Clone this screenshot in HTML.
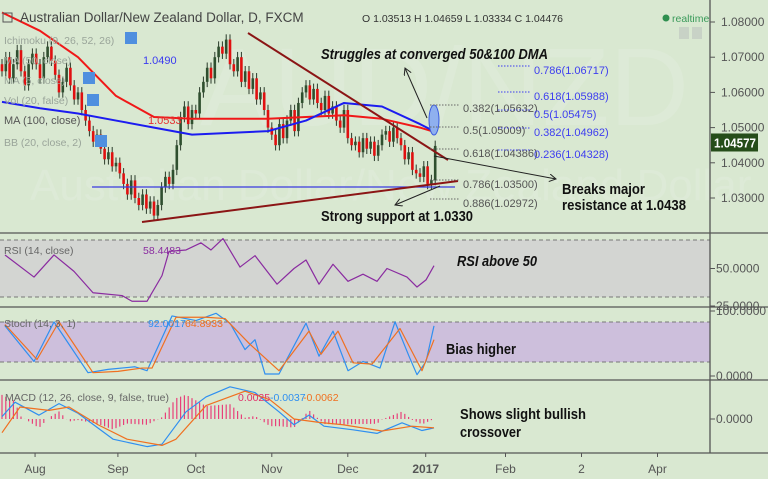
<!DOCTYPE html>
<html><head><meta charset="utf-8">
<style>
html,body{margin:0;padding:0;background:#d9e8d1;}
svg{display:block;font-family:"Liberation Sans",sans-serif;}
.ax{font-size:12px;fill:#555;}
.ann{font-family:"Liberation Sans Narrow","Liberation Sans",sans-serif;font-weight:bold;font-size:15px;fill:#111;}
.leg{font-size:10.5px;fill:#9aa59a;}
.fibg{font-size:11px;fill:#555;}
.fibb{font-size:11px;fill:#3d3df0;}
</style></head>
<body>
<svg id="chart" width="768" height="479" viewBox="0 0 768 479">
<defs>
<marker id="ah" markerWidth="8" markerHeight="8" refX="7" refY="4" orient="auto" markerUnits="userSpaceOnUse">
<path d="M0,0 L7,4 L0,8" fill="none" stroke="#222" stroke-width="1"/>
</marker>
</defs>
<rect x="0" y="0" width="768" height="479" fill="#d9e8d1"/>
<g fill="#e0ecdb" font-size="110" opacity="0.6">
<text x="200" y="125">AUD/NZD</text>
<text x="30" y="200" font-size="44">Australian Dollar/New Zealand Dollar</text>
</g>
<rect x="0" y="240" width="710" height="57" fill="#d3d5d2"/>
<rect x="0" y="322" width="710" height="40" fill="#cdbfdc"/>
<g id="grid"></g>
<g id="main"></g>
<g id="ind"></g>
<g id="axes"></g>
<g id="annot">
<text class="ann" x="321" y="59" font-style="italic" textLength="227" lengthAdjust="spacingAndGlyphs">Struggles at converged 50&amp;100 DMA</text>
<text class="ann" x="562" y="194" textLength="83" lengthAdjust="spacingAndGlyphs">Breaks major</text>
<text class="ann" x="562" y="210" textLength="124" lengthAdjust="spacingAndGlyphs">resistance at 1.0438</text>
<text class="ann" x="321" y="221" textLength="152" lengthAdjust="spacingAndGlyphs">Strong support at 1.0330</text>
<text class="ann" x="457" y="266" font-style="italic" textLength="80" lengthAdjust="spacingAndGlyphs">RSI above 50</text>
<text class="ann" x="446" y="354" textLength="70" lengthAdjust="spacingAndGlyphs">Bias higher</text>
<text class="ann" x="460" y="419" textLength="126" lengthAdjust="spacingAndGlyphs">Shows slight bullish</text>
<text class="ann" x="460" y="437" textLength="61" lengthAdjust="spacingAndGlyphs">crossover</text>
</g>
<g>
<rect x="3" y="13" width="9" height="9" fill="none" stroke="#555"/>
<text x="20" y="22" font-size="13.5" fill="#444">Australian Dollar/New Zealand Dollar, D, FXCM</text>
<text x="362" y="22" font-size="10.5" fill="#333">O 1.03513 H 1.04659 L 1.03334 C 1.04476</text>
<circle cx="666" cy="18" r="3.5" fill="#2f8f4f"/>
<text x="672" y="22" font-size="10.5" fill="#3a9a5a">realtime</text>
<rect x="679" y="27" width="10" height="12" fill="#c8d2c6"/>
<rect x="692" y="27" width="10" height="12" fill="#c8d2c6"/>
<text class="leg" x="4" y="44">Ichimoku (9, 26, 52, 26)</text>
<text class="leg" x="4" y="64">MA (50, close)</text>
<text x="143" y="64" font-size="11" fill="#3a3af0">1.0490</text>
<text class="leg" x="4" y="84">MA (5, close)</text>
<text class="leg" x="4" y="104">Vol (20, false)</text>
<text x="4" y="124" font-size="11" fill="#555">MA (100, close)</text>
<text x="148" y="124" font-size="11" fill="#e53030">1.0533</text>
<text class="leg" x="4" y="146">BB (20, close, 2)</text>
<rect x="125" y="32" width="12" height="12" fill="#4f8fdf"/>
<rect x="83" y="72" width="12" height="12" fill="#4f8fdf"/>
<rect x="87" y="94" width="12" height="12" fill="#4f8fdf"/>
<rect x="95" y="135" width="12" height="12" fill="#4f8fdf"/>
<text x="4" y="254" font-size="10.5" fill="#666">RSI (14, close)</text>
<text x="143" y="254" font-size="10.5" fill="#8a2ba0">58.4483</text>
<text x="4" y="327" font-size="10.5" fill="#666">Stoch (14, 3, 1)</text>
<text x="148" y="327" font-size="10.5" fill="#2f8ff0">92.0017</text>
<text x="185" y="327" font-size="10.5" fill="#f07020">64.8933</text>
<text x="5" y="401" font-size="10.5" fill="#666">MACD (12, 26, close, 9, false, true)</text>
<text x="238" y="401" font-size="10.5" fill="#e0306a">0.0025</text>
<text x="270" y="401" font-size="10.5" fill="#2f8ff0">-0.0037</text>
<text x="303" y="401" font-size="10.5" fill="#f07020">-0.0062</text>
</g>
</svg>
<script>
const closes=[1.066,1.070,1.064,1.068,1.072,1.066,1.062,1.068,1.071,
1.068,1.064,1.070,1.073,1.069,1.065,1.060,1.063,1.067,1.062,1.058,1.060,
1.055,1.052,1.049,1.046,1.048,1.044,1.041,1.043,1.039,1.040,
1.037,1.034,1.031,1.035,1.030,1.028,1.031,1.027,1.029,1.025,
1.028,1.033,1.036,1.034,1.038,
1.045,1.053,1.056,1.051,1.055,
1.054,1.060,1.063,1.067,1.064,1.070,1.073,1.071,1.075,1.068,
1.066,1.070,1.063,1.066,1.061,1.064,1.058,1.060,1.055,1.050,
1.048,1.045,1.051,1.047,1.052,1.055,1.049,1.057,1.060,1.062,
1.058,1.061,1.057,1.055,1.059,1.054,1.056,1.052,1.050,1.055,
1.047,1.045,1.046,1.043,1.047,1.044,1.046,1.042,1.045,1.048,
1.049,1.046,1.050,1.047,1.045,1.041,1.043,1.038,1.037,1.036,
1.039,1.034,1.0351,1.0448];
const maIdx=[0,10,20,30,40,50,60,70,80,90,100,110,114];
const ma50=[1.0827,1.0775,1.0700,1.0590,1.0530,1.0525,1.0525,1.0525,1.0530,1.0535,1.0525,1.0500,1.0487];
const ma100=[1.0573,1.0555,1.0540,1.0520,1.0500,1.0480,1.0485,1.0490,1.0520,1.0570,1.0560,1.0510,1.0488];
const priceTicks=[1.08,1.07,1.06,1.05,1.04,1.03];
const rsiX=[5,34,54,74,93,122,132,147,162,169,186,201,211,223,240,255,277,294,306,319,333,348,363,377,387,407,417,426,434];
const rsiV=[59.5,44,59.5,48,33,31,27,27,45,62,63,68,63,71,51,59,39,50,56,39,53,41,46,41,50,44,37,42,52];
const kX=[5,34,54,88,108,135,147,172,196,216,230,245,255,265,279,306,319,333,348,363,380,395,409,417,426,434];
const kV=[76,22,82,5,10,14,8,91,84,95,80,40,55,3,3,80,30,68,8,22,12,82,30,2,22,76];
const dX=[5,37,59,93,118,142,152,176,206,225,250,279,309,321,338,353,372,400,422,434];
const dV=[78,25,82,5,7,12,12,89,89,87,48,8,68,33,68,20,18,72,8,55];
const macdX=[2,15,39,59,78,113,147,162,186,206,230,255,279,294,309,324,353,377,402,422,434];
const macdV=[1.0,7,1.6,6.4,2.4,-8.4,-11.5,-10.5,3,9.2,13.4,11,3,-2.4,1.6,-3,-4.5,-6,-1.6,-4.8,-3.7];
const sigX=[2,20,49,69,98,127,162,176,206,245,270,294,319,343,382,412,434];
const sigV=[-5.7,5,3.6,5,-2.4,-8.4,-11,-8.4,5.6,11.6,8,0,-1.4,-2.4,-5,-3,-3.7];
const timeLabels=["Aug","Sep","Oct","Nov","Dec","2017","Feb","2","Apr"];
const timeBars=[8.7,30.5,51,71,91,111.5,132.5,152.5,172.5];

const NS="http://www.w3.org/2000/svg";
function mk(p,tag,attrs){const e=document.createElementNS(NS,tag);for(const k in attrs)e.setAttribute(k,attrs[k]);p.appendChild(e);return e;}
const xBar=i=>2+i*3.8;
const yP=p=>22+(1.08-p)*3520;
const yRsi=v=>268.5-(v-50)*1.425;
const yStoch=v=>376-v*0.66;
const yMacd=v=>419-v*2.4;
const main=document.getElementById('main'),ind=document.getElementById('ind'),axes=document.getElementById('axes'),grid=document.getElementById('grid');
function interp(xs,vs,x){if(x<=xs[0])return vs[0];for(let i=1;i<xs.length;i++){if(x<=xs[i]){const t=(x-xs[i-1])/(xs[i]-xs[i-1]);return vs[i-1]+t*(vs[i]-vs[i-1]);}}return vs[vs.length-1];}

[[240,'rsi-level-70'],[297,'rsi-level-30'],[322,'stoch-level-80'],[362,'stoch-level-20']].forEach(([y,n])=>{
 const l=mk(grid,'line',{x1:0,x2:710,y1:y,y2:y,stroke:'#777','stroke-dasharray':'4,3'});
 
 
});

closes.forEach((c,i)=>{
 const o=i?closes[i-1]:c+0.002;
 const hi=Math.max(o,c)+0.0015, lo=Math.min(o,c)-0.0015;
 const x=xBar(i), up=c>=o;
 const g=mk(main,'g',{});
 
 
 mk(g,'line',{x1:x,x2:x,y1:yP(hi),y2:yP(lo),stroke:'#2a3a2a','stroke-width':1});
 const yt=yP(Math.max(o,c)),yb=yP(Math.min(o,c));
 mk(g,'rect',{x:x-1.3,y:yt,width:2.6,height:Math.max(1,yb-yt),fill:up?'#2f4f2f':'#e01010'});
});
function line(par,pts,color,w,name){
 const p=mk(par,'polyline',{points:pts.map(q=>q.join(',')).join(' '),fill:'none',stroke:color,'stroke-width':w,'stroke-linejoin':'round'});
 
 
}
line(main,maIdx.map((b,i)=>[xBar(b),yP(ma50[i])]),'#f01818',2,'ma-50-line');
line(main,maIdx.map((b,i)=>[xBar(b),yP(ma100[i])]),'#1c1cf0',2,'ma-100-line');

const dr=[
 ['line',{x1:92,y1:187,x2:455,y2:187,stroke:'#3a3ae0','stroke-width':1.3},'support-horizontal'],
 ['line',{x1:248,y1:33,x2:448,y2:160,stroke:'#8b1515','stroke-width':2},'descending-trendline'],
 ['line',{x1:142,y1:222,x2:458,y2:181,stroke:'#8b1515','stroke-width':2},'ascending-trendline'],
 ['ellipse',{cx:434,cy:120,rx:5,ry:15,fill:'#8fb0ef',stroke:'#3a5ae0','stroke-width':1},'highlight-ellipse'],
 ['line',{x1:427,y1:118,x2:405,y2:68,stroke:'#222','stroke-width':1,'marker-end':'url(#ah)'},'arrow-dma'],
 ['line',{x1:434,y1:156,x2:556,y2:179,stroke:'#222','stroke-width':1,'marker-end':'url(#ah)'},'arrow-breaks'],
 ['line',{x1:440,y1:186,x2:395,y2:205,stroke:'#222','stroke-width':1,'marker-end':'url(#ah)'},'arrow-support']
];
dr.forEach(([t,a,n])=>{const e=mk(main,t,a);});

const fibG=[["0.382(1.05632)",105,112],["0.5(1.05009)",127,134],["0.618(1.04386)",149,157],["0.786(1.03500)",180,188],["0.886(1.02972)",199,207]];
const fibB=[["0.786(1.06717)",66,74],["0.618(1.05988)",92,100],["0.5(1.05475)",110,118],["0.382(1.04962)",128,136],["0.236(1.04328)",150,158]];
fibG.forEach(([t,ly,ty])=>{
 const l=mk(main,'line',{x1:430,x2:459,y1:ly,y2:ly,stroke:'#666','stroke-dasharray':'1.5,1.5'});
 
 
 const e=mk(main,'text',{x:463,y:ty,class:'fibg'});e.textContent=t;
 
 
});
fibB.forEach(([t,ly,ty])=>{
 const l=mk(main,'line',{x1:498,x2:530,y1:ly,y2:ly,stroke:'#3d3df0','stroke-dasharray':'1.5,1.5'});
 
 
 const e=mk(main,'text',{x:534,y:ty,class:'fibb'});e.textContent=t;
 
 
});

line(ind,rsiX.map((x,i)=>[x,yRsi(rsiV[i])]),'#8a2ba0',1.2,'rsi-line');
line(ind,kX.map((x,i)=>[x,yStoch(kV[i])]),'#2f8ff0',1.2,'stoch-k-line');
line(ind,dX.map((x,i)=>[x,yStoch(dV[i])]),'#f07020',1.2,'stoch-d-line');
for(let i=0;i<closes.length;i++){
 const x=xBar(i);const h=(interp(macdX,macdV,x)-interp(sigX,sigV,x))*1.5;
 const b=mk(ind,'line',{x1:x,x2:x,y1:yMacd(0),y2:yMacd(h),stroke:'#e8407a','stroke-width':1.2});
 
 
}
line(ind,macdX.map((x,i)=>[x,yMacd(macdV[i])]),'#2f8ff0',1.2,'macd-line');
line(ind,sigX.map((x,i)=>[x,yMacd(sigV[i])]),'#f07020',1.2,'signal-line');

[233,307,380,453].forEach(y=>{const l=mk(axes,'line',{x1:0,x2:768,y1:y,y2:y,stroke:'#555','stroke-width':1.3});
 
 });
const va=mk(axes,'line',{x1:710,x2:710,y1:0,y2:453,stroke:'#555','stroke-width':1.3});


priceTicks.forEach(p=>{
 const y=yP(p);
 mk(axes,'line',{x1:710,x2:715,y1:y,y2:y,stroke:'#555'});
 const t=mk(axes,'text',{x:721,y:y+4,class:'ax'});t.textContent=p.toFixed(5);
 
 
});
const cp=closes[closes.length-1]+0.00097;
const pb=mk(axes,'rect',{x:711,y:yP(cp)-9,width:47,height:18,fill:'#264d1a'});


const pt=mk(axes,'text',{x:714,y:yP(cp)+5,'font-size':12.5,'font-weight':'bold',fill:'#fff',textLength:42,lengthAdjust:'spacingAndGlyphs'});pt.textContent="1.04577";


[["50.0000",yRsi(50)],["25.0000",306],["100.0000",yStoch(100)+1],["0.0000",yStoch(0)],["0.0000",yMacd(0)]].forEach(([s,y])=>{
 mk(axes,'line',{x1:710,x2:715,y1:y,y2:y,stroke:'#555'});
 const t=mk(axes,'text',{x:716,y:y+4,class:'ax'});t.textContent=s;
 
 
});
timeLabels.forEach((s,i)=>{
 const x=xBar(timeBars[i]);
 mk(axes,'line',{x1:x,x2:x,y1:453,y2:457,stroke:'#555'});
 const t=mk(axes,'text',{x:x,y:473,class:'ax','text-anchor':'middle','font-weight':s==='2017'?'bold':'normal'});t.textContent=s;
 
 
});
</script>
</body></html>
